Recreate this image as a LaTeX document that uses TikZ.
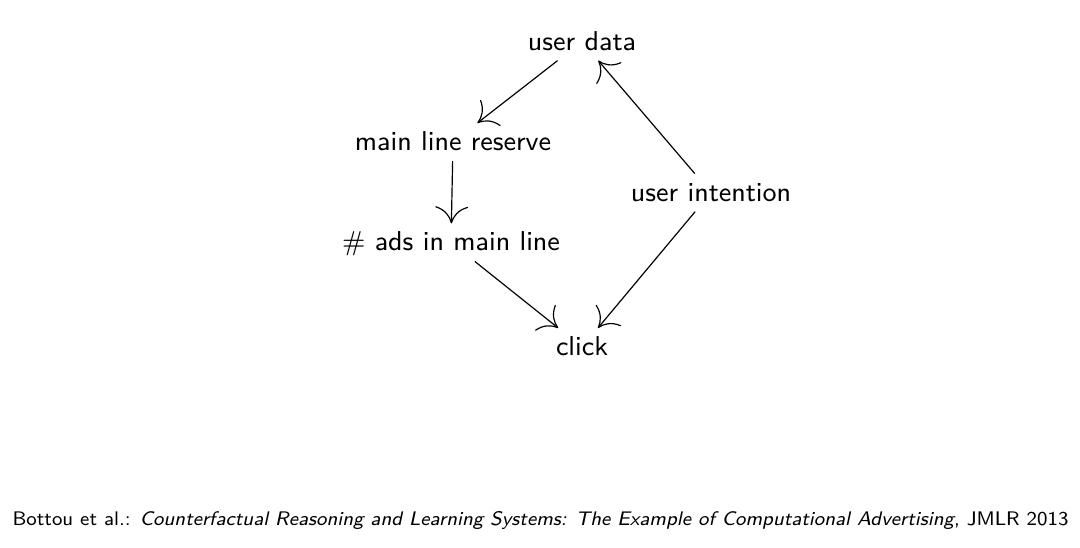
\documentclass[tikz,border=0pt]{standalone}
\usetikzlibrary{arrows.meta}
\renewcommand{\familydefault}{\sfdefault}
\begin{document}
\begin{tikzpicture}[
    var/.style={font=\fontsize{9.2}{11}\selectfont, text height=1.6ex, text depth=.3ex, inner sep=2pt},
    dep/.style={-{Computer Modern Rightarrow[length=2mm,width=3.9mm]}},
  ]
  \useasboundingbox (0,0) rectangle (12.8,6.483);
  % variables of the causal graph
  \node[var] (data) at (6.898,5.99) {user data};
  \node[var] (reserve) at (5.369,4.80) {main line reserve};
  \node[var] (ads) at (5.345,3.61) {\# ads in main line};
  \node[var] (intent) at (8.427,4.20) {user intention};
  \node[var] (click) at (6.898,2.37) {click};
  % dependencies
  \draw[dep] (data) -- (reserve);
  \draw[dep] (reserve) -- (ads);
  \draw[dep] (ads) -- (click);
  \draw[dep] (intent) -- (click);
  \draw[dep] (intent) -- (data);
  % reference below the graph
  \node[anchor=base west, font=\fontsize{6.63}{8}\selectfont, inner sep=0pt] (ref) at (0.142,0.26)
    {Bottou et al.: \textit{Counterfactual Reasoning and Learning Systems: The Example of Computational Advertising}, JMLR 2013};
\end{tikzpicture}
\end{document}
